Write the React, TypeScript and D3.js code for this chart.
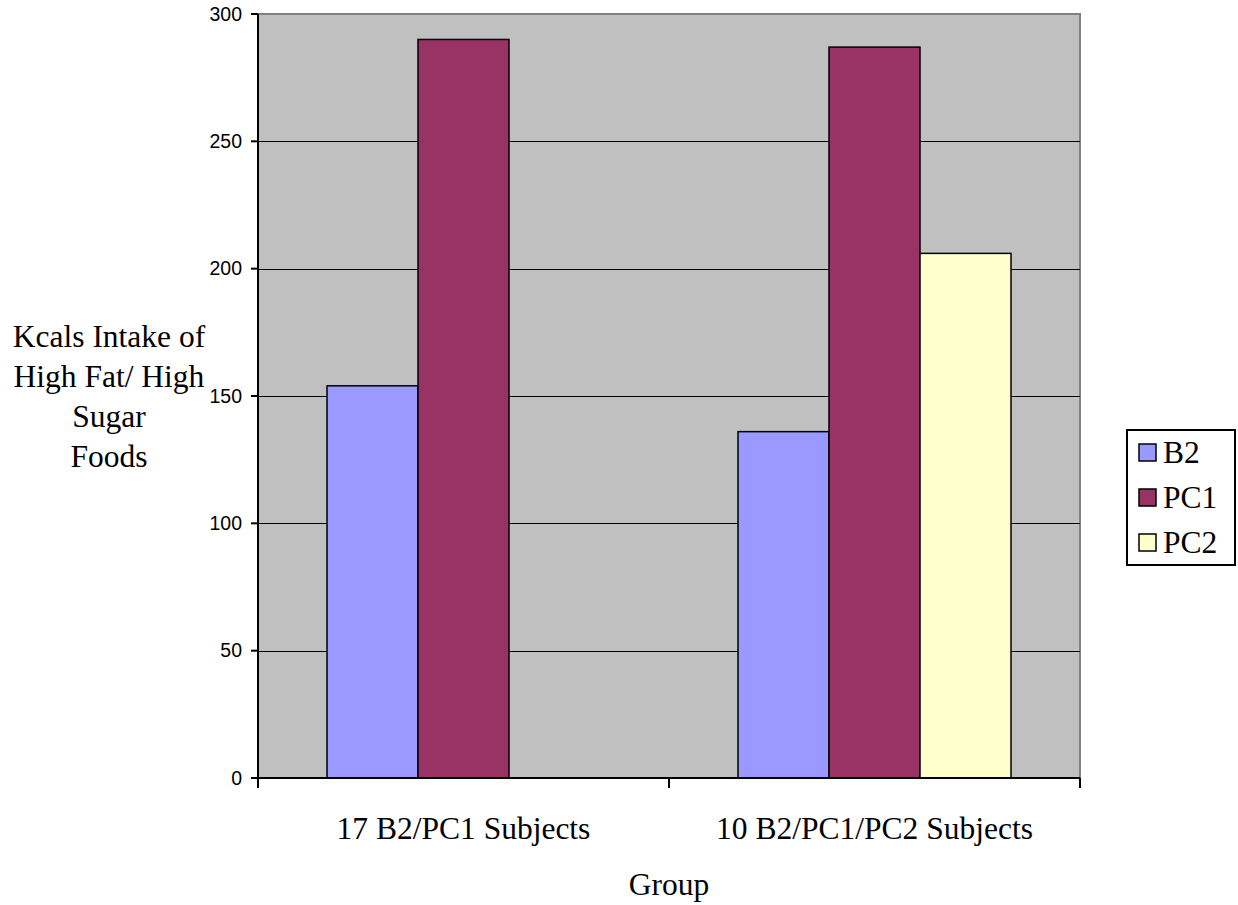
import React, { useEffect, useRef } from "react";
import * as d3 from "d3";

const categories = ["17 B2/PC1 Subjects", "10 B2/PC1/PC2 Subjects"];
const seriesNames = ["B2", "PC1", "PC2"];
const seriesColors = ["#9999ff", "#993366", "#ffffcc"];
// values per category, in series order; null = series not measured
const b2Values = [154, 136];
const pc1Values = [290, 287];
const pc2Values: (number | null)[] = [null, 206];
const yTicks = [0, 50, 100, 150, 200, 250, 300];
const yTitleLines = ["Kcals Intake of", "High Fat/ High", "Sugar", "Foods"];
const xTitle = "Group";

const W = 1238;
const H = 905;
const plot = { left: 258, right: 1080, top: 14, bottom: 778 };
const serif = "'Liberation Serif', 'Times New Roman', serif";
const sans = "'Liberation Sans', Arial, sans-serif";
const labelSize = 31.5;

export default function App() {
  const ref = useRef<SVGSVGElement | null>(null);

  useEffect(() => {
    const svg = d3.select(ref.current);
    svg.selectAll("*").remove();

    const x0 = d3
      .scaleBand<string>()
      .domain(categories)
      .range([plot.left, plot.right])
      .paddingInner(0)
      .paddingOuter(0);
    const x1 = d3
      .scaleBand<string>()
      .domain(seriesNames)
      .range([69, x0.bandwidth() - 69]);
    const y = d3.scaleLinear().domain([0, 300]).range([plot.bottom, plot.top]);

    // plot background
    svg
      .append("rect")
      .attr("x", plot.left)
      .attr("y", plot.top)
      .attr("width", plot.right - plot.left)
      .attr("height", plot.bottom - plot.top)
      .attr("fill", "#c0c0c0");

    // top / right frame
    svg
      .append("path")
      .attr("d", `M${plot.left},${plot.top}H${plot.right}V${plot.bottom}`)
      .attr("fill", "none")
      .attr("stroke", "#808080")
      .attr("stroke-width", 2);

    // gridlines
    svg
      .append("g")
      .selectAll("line")
      .data(yTicks.filter((t) => t > 0 && t < 300))
      .join("line")
      .attr("x1", plot.left)
      .attr("x2", plot.right)
      .attr("y1", (d) => Math.round(y(d)) + 0.5)
      .attr("y2", (d) => Math.round(y(d)) + 0.5)
      .attr("stroke", "#000")
      .attr("stroke-width", 1);

    const rows = categories.map((c, i) => ({
      cat: c,
      vals: [b2Values[i], pc1Values[i], pc2Values[i]],
    }));

    // bars
    const groups = svg
      .append("g")
      .selectAll("g")
      .data(rows)
      .join("g")
      .attr("transform", (d) => `translate(${x0(d.cat)},0)`);
    groups
      .selectAll("rect")
      .data((d) =>
        d.vals
          .map((v, k) => ({ v, k }))
          .filter((e) => e.v !== null) as { v: number; k: number }[]
      )
      .join("rect")
      .attr("x", (d) => x1(seriesNames[d.k])!)
      .attr("y", (d) => y(d.v))
      .attr("width", x1.bandwidth())
      .attr("height", (d) => y(0) - y(d.v))
      .attr("fill", (d) => seriesColors[d.k])
      .attr("stroke", "#000")
      .attr("stroke-width", 1.5);

    // y axis
    const yAxis = svg.append("g");
    yAxis
      .append("line")
      .attr("x1", plot.left)
      .attr("x2", plot.left)
      .attr("y1", plot.top)
      .attr("y2", plot.bottom)
      .attr("stroke", "#000")
      .attr("stroke-width", 2);
    yAxis
      .selectAll("line.tick")
      .data(yTicks)
      .join("line")
      .attr("class", "tick")
      .attr("x1", plot.left - 7)
      .attr("x2", plot.left)
      .attr("y1", (d) => y(d))
      .attr("y2", (d) => y(d))
      .attr("stroke", "#000")
      .attr("stroke-width", 2);
    yAxis
      .selectAll("text")
      .data(yTicks)
      .join("text")
      .attr("x", plot.left - 16)
      .attr("y", (d) => y(d))
      .attr("dy", "0.35em")
      .attr("text-anchor", "end")
      .attr("font-family", sans)
      .attr("font-size", 19.5)
      .text((d) => d);

    // x axis
    const xAxis = svg.append("g");
    xAxis
      .append("line")
      .attr("x1", plot.left)
      .attr("x2", plot.right)
      .attr("y1", plot.bottom)
      .attr("y2", plot.bottom)
      .attr("stroke", "#000")
      .attr("stroke-width", 2);
    const boundaries = [
      ...categories.map((c) => x0(c)!),
      x0(categories[categories.length - 1])! + x0.bandwidth(),
    ];
    xAxis
      .selectAll("line.tick")
      .data(boundaries)
      .join("line")
      .attr("class", "tick")
      .attr("x1", (d) => d)
      .attr("x2", (d) => d)
      .attr("y1", plot.bottom)
      .attr("y2", plot.bottom + 10)
      .attr("stroke", "#000")
      .attr("stroke-width", 2);
    xAxis
      .selectAll("text")
      .data(categories)
      .join("text")
      .attr("x", (d) => x0(d)! + x0.bandwidth() / 2)
      .attr("y", 839)
      .attr("text-anchor", "middle")
      .attr("font-family", serif)
      .attr("font-size", labelSize)
      .text((d) => d);

    // axis titles
    svg
      .append("text")
      .attr("x", 669)
      .attr("y", 895)
      .attr("text-anchor", "middle")
      .attr("font-family", serif)
      .attr("font-size", labelSize)
      .text(xTitle);
    svg
      .append("g")
      .selectAll("text")
      .data(yTitleLines)
      .join("text")
      .attr("x", 109)
      .attr("y", (_, i) => 347 + i * 40)
      .attr("text-anchor", "middle")
      .attr("font-family", serif)
      .attr("font-size", labelSize)
      .text((d) => d);

    // legend
    const lg = svg.append("g").attr("transform", "translate(1127,430)");
    lg.append("rect")
      .attr("width", 108)
      .attr("height", 135)
      .attr("fill", "#fff")
      .attr("stroke", "#000")
      .attr("stroke-width", 2);
    const items = lg
      .selectAll("g")
      .data(seriesNames)
      .join("g")
      .attr("transform", (_, i) => `translate(0,${22 + i * 45})`);
    items
      .append("rect")
      .attr("x", 12)
      .attr("y", -8)
      .attr("width", 17)
      .attr("height", 17)
      .attr("fill", (_, i) => seriesColors[i])
      .attr("stroke", "#000")
      .attr("stroke-width", 1.5);
    items
      .append("text")
      .attr("x", 36)
      .attr("y", 0)
      .attr("dy", "0.35em")
      .attr("font-family", serif)
      .attr("font-size", labelSize)
      .text((d) => d);
  }, []);

  return (
    <svg
      ref={ref}
      width={W}
      height={H}
      style={{ position: "absolute", left: 0, top: 0, background: "#fff" }}
    />
  );
}
